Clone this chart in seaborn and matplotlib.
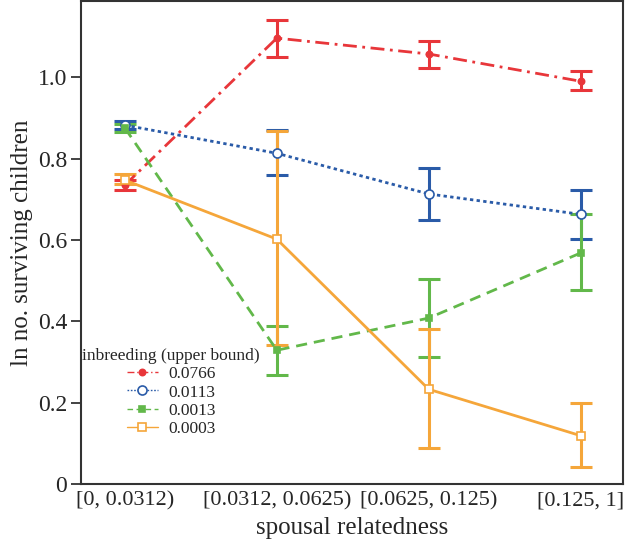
import matplotlib
matplotlib.use("Agg")
import matplotlib.pyplot as plt
import seaborn as sns
import pandas as pd

# categories of spousal relatedness
cats = ['[0, 0.0312)', '[0.0312, 0.0625)', '[0.0625, 0.125)', '[0.125, 1]']
groups = ['0.0766', '0.0113', '0.0013', '0.0003']

# ln no. surviving children
mean_0766 = [0.735, 1.096, 1.057, 0.990]
lo_0766 = [0.722, 1.050, 1.022, 0.968]
hi_0766 = [0.748, 1.140, 1.090, 1.015]

mean_0113 = [0.882, 0.813, 0.713, 0.663]
lo_0113 = [0.872, 0.759, 0.650, 0.602]
hi_0113 = [0.892, 0.870, 0.777, 0.722]

mean_0013 = [0.875, 0.329, 0.408, 0.568]
lo_0013 = [0.865, 0.268, 0.312, 0.476]
hi_0013 = [0.885, 0.388, 0.504, 0.664]

mean_0003 = [0.747, 0.602, 0.233, 0.119]
lo_0003 = [0.737, 0.341, 0.088, 0.042]
hi_0003 = [0.762, 0.868, 0.381, 0.199]

means = [mean_0766, mean_0113, mean_0013, mean_0003]
los = [lo_0766, lo_0113, lo_0013, lo_0003]
his = [hi_0766, hi_0113, hi_0013, hi_0003]

colors = ['#e8363a', '#2a5ba8', '#62b84a', '#f5a63a']
styles = [(0, (5, 2, 1, 2)), (0, (1.2, 1.2)), (0, (4, 2.5)), '-']
markers = ['o', 'o', 's', 's']
mfc = [None, 'white', None, 'white']
msize = [4.5, 6.5, 4.5, 6]

sns.set_theme(style="ticks")
plt.rcParams['font.family'] = ['Liberation Serif', 'DejaVu Serif']

fig = plt.figure(figsize=(6.32, 5.47), dpi=100)
ax = fig.add_axes([0.128, 0.115, 0.858, 0.883])

for i, g in enumerate(groups):
    df = pd.DataFrame({'rel': cats, 'y': means[i]})
    yerr = [[m - l for m, l in zip(means[i], los[i])],
            [h - m for m, h in zip(means[i], his[i])]]
    ax.errorbar(cats, means[i], yerr=yerr, fmt='none', ecolor=colors[i],
                elinewidth=2.2, capsize=8, capthick=2.2, zorder=2)
    c = colors[i]
    sns.lineplot(data=df, x='rel', y='y', ax=ax, color=c, linestyle=styles[i],
                 linewidth=2.0, marker=markers[i], markersize=msize[i],
                 markerfacecolor=mfc[i] if mfc[i] else c, markeredgecolor=c,
                 markeredgewidth=1.2, label=g, sort=False, zorder=3)

ax.set_xlim(-0.29, 3.28)
ax.set_ylim(0, 1.187)
ax.set_yticks([0, 0.2, 0.4, 0.6, 0.8, 1.0])
ax.set_yticklabels(['0', '0.2', '0.4', '0.6', '0.8', '1.0'])
ax.tick_params(axis='y', length=7, width=1.2, labelsize=17, color='#222222', pad=3)
ax.tick_params(axis='x', length=0, labelsize=16, pad=5)
ax.set_xlabel('spousal relatedness', fontsize=18, labelpad=5)
ax.set_ylabel('ln no. surviving children', fontsize=18, labelpad=3)
for s in ax.spines.values():
    s.set_visible(True)
    s.set_linewidth(1.5)
    s.set_color('#333333')

leg = ax.legend(title='inbreeding (upper bound)', loc='upper left',
                bbox_to_anchor=(-0.01, 0.296), frameon=False, fontsize=12.5,
                title_fontsize=12.5, handlelength=1.8, handletextpad=0.6,
                labelspacing=0.12, borderaxespad=0)
for h in leg.legend_handles:
    h.set_linewidth(1.0)

fig.savefig('out.png', dpi=100)
